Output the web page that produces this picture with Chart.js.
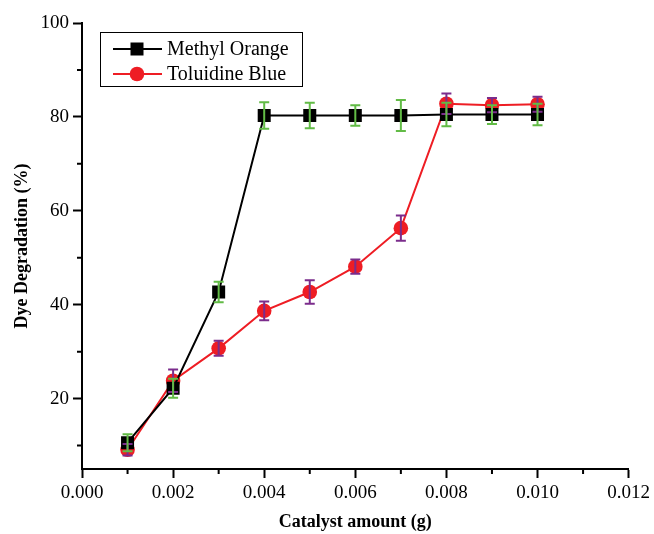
<!DOCTYPE html>
<html>
<head>
<meta charset="utf-8">
<script src="https://cdn.jsdelivr.net/npm/chart.js@4.4.1/dist/chart.umd.min.js"></script>
<style>
  html, body { margin: 0; padding: 0; background: #fff; }
  #wrap { width: 654px; height: 534px; }
</style>
</head>
<body>
<div id="wrap"><canvas id="chartCanvas" width="654" height="534"></canvas></div>
<script>
// Catalyst amounts (g)
const catalyst = [0.001, 0.002, 0.003, 0.004, 0.005, 0.006, 0.007, 0.008, 0.009, 0.010];

// Dye degradation (%) and error sizes
const methylOrange = [10.6, 22.2, 42.7, 80.3, 80.3, 80.3, 80.3, 80.5, 80.5, 80.5];
const methylOrangeErr = [1.8, 2.0, 2.2, 2.8, 2.7, 2.2, 3.3, 2.5, 2.0, 2.3];
const toluidineBlue = [9.1, 23.8, 30.7, 38.7, 42.7, 48.1, 56.3, 82.8, 82.5, 82.7];
const toluidineBlueErr = [1.2, 2.4, 1.6, 2.0, 2.5, 1.5, 2.7, 2.2, 1.5, 1.6];

// Axis ticks
const xMajorTicks = [0, 0.002, 0.004, 0.006, 0.008, 0.010, 0.012];
const xMinorTicks = [0.001, 0.003, 0.005, 0.007, 0.009, 0.011];
const yMajorTicks = [20, 40, 60, 80, 100];
const yMinorTicks = [10, 30, 50, 70, 90];

const serif = "'Liberation Serif', 'Times New Roman', serif";

// Error bars drawn on top of all datasets (purple first, green last)
const errorBarPlugin = {
    id: 'errorBars',
    afterDatasetsDraw(chart) {
        const ctx = chart.ctx;
        const xs = chart.scales.x, ys = chart.scales.y;
        const order = [1, 0];
        order.forEach(i => {
            const ds = chart.data.datasets[i];
            ctx.save();
            ctx.strokeStyle = ds.errorColor;
            ctx.lineWidth = 2;
            ds.data.forEach((p, k) => {
                const e = ds.errors[k];
                const x = xs.getPixelForValue(p.x);
                const yt = ys.getPixelForValue(p.y + e);
                const yb = ys.getPixelForValue(p.y - e);
                ctx.beginPath();
                ctx.moveTo(x, yt); ctx.lineTo(x, yb);
                ctx.moveTo(x - 5, yt); ctx.lineTo(x + 5, yt);
                ctx.moveTo(x - 5, yb); ctx.lineTo(x + 5, yb);
                ctx.stroke();
            });
            ctx.restore();
        });
    }
};

// Short minor tick marks on both axes
const minorTickPlugin = {
    id: 'minorTicks',
    afterDraw(chart) {
        const ctx = chart.ctx;
        const xs = chart.scales.x, ys = chart.scales.y;
        const area = chart.chartArea;
        ctx.save();
        ctx.strokeStyle = '#000';
        ctx.lineWidth = 2;
        ctx.beginPath();
        xMinorTicks.forEach(v => {
            const x = xs.getPixelForValue(v);
            ctx.moveTo(x, area.bottom); ctx.lineTo(x, area.bottom + 5);
        });
        yMinorTicks.forEach(v => {
            const y = ys.getPixelForValue(v);
            ctx.moveTo(area.left, y); ctx.lineTo(area.left - 5, y);
        });
        ctx.stroke();
        ctx.restore();
    }
};

// Boxed legend with line + marker samples, like the original plot
const boxLegendPlugin = {
    id: 'boxLegend',
    afterDraw(chart) {
        const ctx = chart.ctx;
        ctx.save();
        ctx.strokeStyle = '#000';
        ctx.lineWidth = 1;
        ctx.strokeRect(100.5, 32.5, 202, 54);
        chart.data.datasets.forEach((ds, i) => {
            const y = 49 + i * 25;
            ctx.strokeStyle = ds.borderColor;
            ctx.lineWidth = 2;
            ctx.beginPath();
            ctx.moveTo(113, y); ctx.lineTo(162, y);
            ctx.stroke();
            ctx.fillStyle = ds.backgroundColor;
            if (ds.pointStyle === 'rect') {
                ctx.fillRect(137 - 6.5, y - 6.5, 13, 13);
            } else {
                ctx.beginPath();
                ctx.arc(137, y, 7.3, 0, Math.PI * 2);
                ctx.fill();
            }
            ctx.fillStyle = '#000';
            ctx.font = '20px ' + serif;
            ctx.textBaseline = 'middle';
            ctx.fillText(ds.label, 167, y + 1);
        });
        ctx.restore();
    }
};

const ctx = document.getElementById('chartCanvas').getContext('2d');
new Chart(ctx, {
    type: 'line',
    data: {
        datasets: [{
            label: 'Methyl Orange',
            data: catalyst.map((c, i) => ({ x: c, y: methylOrange[i] })),
            errors: methylOrangeErr,
            errorColor: '#62bb46',
            borderColor: '#000000',
            backgroundColor: '#000000',
            borderWidth: 2,
            pointStyle: 'rect',
            pointRadius: 9.2,
            pointHoverRadius: 9.2,
            pointBorderWidth: 0,
            tension: 0
        }, {
            label: 'Toluidine Blue',
            data: catalyst.map((c, i) => ({ x: c, y: toluidineBlue[i] })),
            errors: toluidineBlueErr,
            errorColor: '#7b2c8c',
            borderColor: '#ee1d24',
            backgroundColor: '#ee1d24',
            borderWidth: 2,
            pointStyle: 'circle',
            pointRadius: 7.3,
            pointHoverRadius: 7.3,
            pointBorderWidth: 0,
            tension: 0
        }]
    },
    options: {
        responsive: false,
        animation: false,
        layout: { padding: { top: 23, right: 24, bottom: 0, left: 0 } },
        plugins: {
            legend: { display: false },
            tooltip: { enabled: false }
        },
        scales: {
            x: {
                type: 'linear',
                min: 0,
                max: 0.012,
                afterBuildTicks: scale => { scale.ticks = xMajorTicks.map(v => ({ value: v })); },
                afterFit: scale => { scale.height = 65; },
                grid: { drawOnChartArea: false, tickLength: 9, tickWidth: 2, tickColor: '#000' },
                border: { color: '#000', width: 2 },
                ticks: {
                    color: '#000',
                    padding: 4,
                    maxRotation: 0,
                    font: { family: serif, size: 19 },
                    callback: v => v.toFixed(3)
                },
                title: {
                    display: true,
                    text: 'Catalyst amount (g)',
                    color: '#000',
                    font: { family: serif, size: 18, weight: 'bold' },
                    padding: { top: 0, bottom: 1 }
                }
            },
            y: {
                min: 5,
                max: 100,
                afterBuildTicks: scale => { scale.ticks = yMajorTicks.map(v => ({ value: v })); },
                afterFit: scale => { scale.width = 82; },
                grid: { drawOnChartArea: false, tickLength: 9, tickWidth: 2, tickColor: '#000' },
                border: { color: '#000', width: 2 },
                ticks: {
                    color: '#000',
                    padding: 4,
                    font: { family: serif, size: 19 }
                },
                title: {
                    display: true,
                    text: 'Dye Degradation (%)',
                    color: '#000',
                    font: { family: serif, size: 18, weight: 'bold' },
                    padding: { top: 12, bottom: 0 }
                }
            }
        }
    },
    plugins: [errorBarPlugin, minorTickPlugin, boxLegendPlugin]
});
</script>
</body>
</html>
